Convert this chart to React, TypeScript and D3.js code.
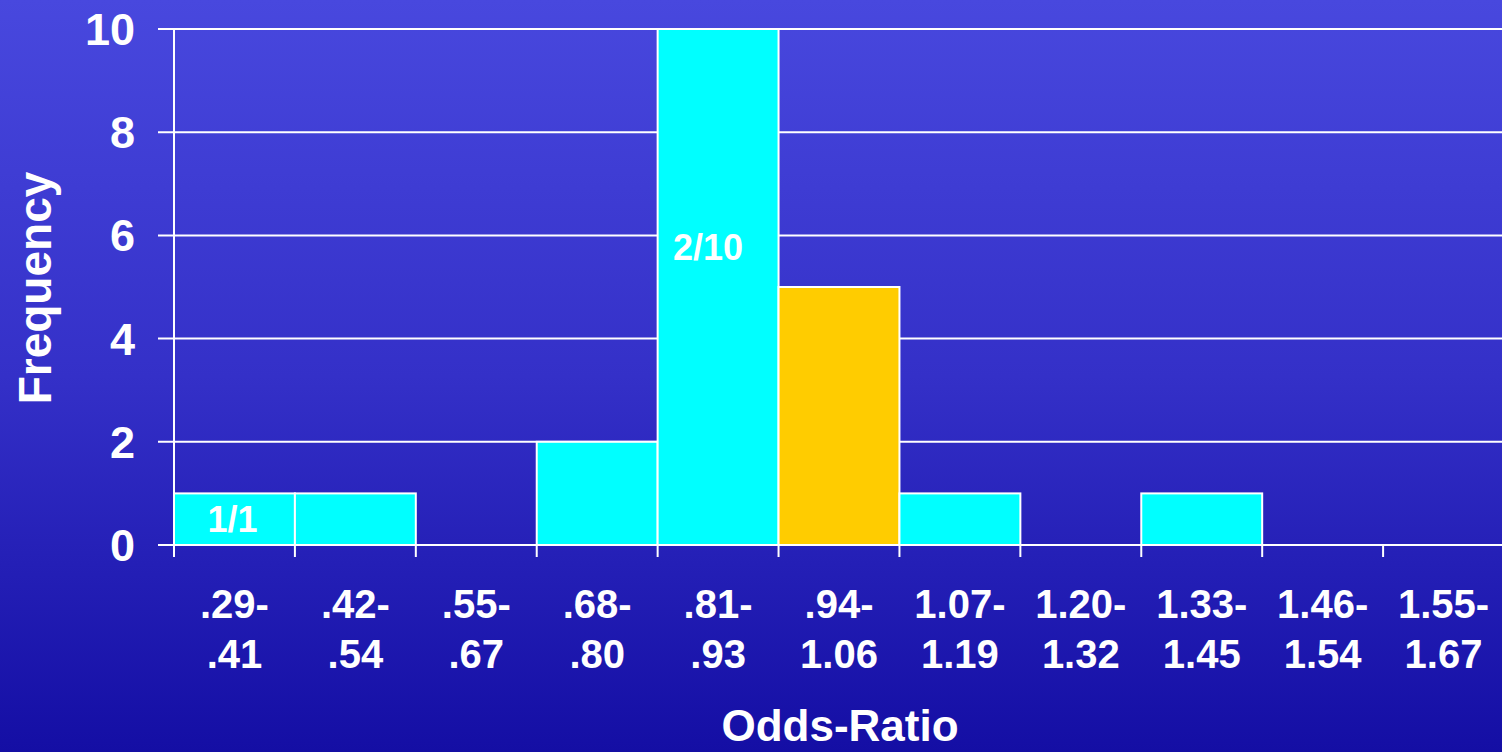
import React, { useLayoutEffect } from "react";
import * as d3 from "d3";

const categories = ["0", "1", "2", "3", "4", "5", "6", "7", "8", "9", "10"];
const labelTop = [".29-", ".42-", ".55-", ".68-", ".81-", ".94-", "1.07-", "1.20-", "1.33-", "1.46-", "1.55-"];
const labelBottom = [".41", ".54", ".67", ".80", ".93", "1.06", "1.19", "1.32", "1.45", "1.54", "1.67"];
const frequency = [1, 1, 0, 2, 10, 5, 1, 0, 1, 0, 0];
const highlight = [false, false, false, false, false, true, false, false, false, false, false];
const annotations = [
  { index: 0, text: "1/1" },
  { index: 4, text: "2/10" },
];
const yTicks = [0, 2, 4, 6, 8, 10];

const W = 1502;
const H = 752;
const FONT = "Liberation Sans, Arial, Helvetica, sans-serif";

export default function App() {
  useLayoutEffect(() => {
    document.body.style.margin = "0";
    document.body.style.overflow = "hidden";
  }, []);

  const x = d3.scaleBand<string>().domain(categories).range([174, 1504]).padding(0);
  const y = d3.scaleLinear().domain([0, 10]).range([545, 29]);
  const bw = x.bandwidth();

  return (
    <svg width={W} height={H} style={{ display: "block" }} fontFamily={FONT}>
      <defs>
        <linearGradient id="bg" x1="0" y1="0" x2="0" y2="1">
          <stop offset="0" stopColor="#4848de" />
          <stop offset="0.5" stopColor="#3430c8" />
          <stop offset="1" stopColor="#140ea4" />
        </linearGradient>
      </defs>
      <rect x={0} y={0} width={W} height={H} fill="url(#bg)" />

      {/* gridlines and y ticks */}
      {yTicks.map((t) => (
        <g key={t}>
          <line x1={158} x2={W} y1={y(t)} y2={y(t)} stroke="#ffffff" strokeWidth={2} />
          <text
            x={135}
            y={y(t) + 16}
            textAnchor="end"
            fill="#ffffff"
            fontWeight="bold"
            fontSize={45}
          >
            {t}
          </text>
        </g>
      ))}

      {/* y axis line */}
      <line x1={174} x2={174} y1={y(10)} y2={y(0)} stroke="#ffffff" strokeWidth={2} />

      {/* bars */}
      {categories.map((c, i) =>
        frequency[i] > 0 ? (
          <rect
            key={c}
            x={x(c)!}
            y={y(frequency[i])}
            width={bw}
            height={y(0) - y(frequency[i])}
            fill={highlight[i] ? "#ffcc00" : "#00ffff"}
            stroke="#ffffff"
            strokeWidth={2}
          />
        ) : null
      )}

      {/* x ticks */}
      {categories.map((c) => (
        <line key={c} x1={x(c)!} x2={x(c)!} y1={y(0)} y2={y(0) + 12} stroke="#ffffff" strokeWidth={2} />
      ))}

      {/* annotations */}
      {annotations.map((a) => {
        const c = categories[a.index];
        const cx = x(c)! + bw / 2;
        const ty = a.index === 0 ? 532 : 260;
        return (
          <text
            key={a.text}
            x={a.index === 0 ? cx - 2 : cx - 10}
            y={ty}
            textAnchor="middle"
            fill="#ffffff"
            fontWeight="bold"
            fontSize={36}
          >
            {a.text}
          </text>
        );
      })}

      {/* x labels */}
      {categories.map((c, i) => (
        <g key={c}>
          <text x={x(c)! + bw / 2} y={618} textAnchor="middle" fill="#ffffff" fontWeight="bold" fontSize={40}>
            {labelTop[i]}
          </text>
          <text x={x(c)! + bw / 2} y={668} textAnchor="middle" fill="#ffffff" fontWeight="bold" fontSize={40}>
            {labelBottom[i]}
          </text>
        </g>
      ))}

      {/* axis titles */}
      <text x={840} y={741} textAnchor="middle" fill="#ffffff" fontWeight="bold" fontSize={44}>
        Odds-Ratio
      </text>
      <text
        transform={`translate(51, 288) rotate(-90)`}
        textAnchor="middle"
        fill="#ffffff"
        fontWeight="bold"
        fontSize={46}
      >
        Frequency
      </text>
    </svg>
  );
}
